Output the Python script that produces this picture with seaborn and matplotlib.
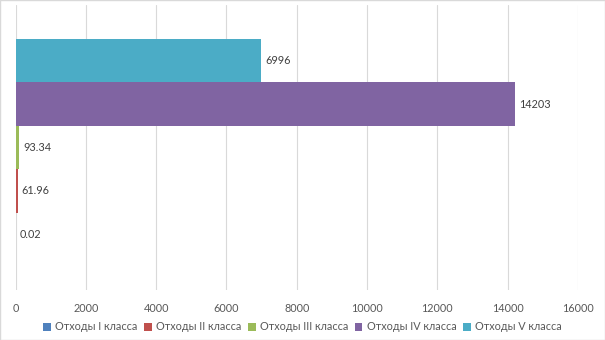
import matplotlib
matplotlib.use("Agg")
import matplotlib.pyplot as plt
from matplotlib.patches import Patch, Rectangle
import seaborn as sns
import pandas as pd

series = ["Отходы I класса", "Отходы II класса", "Отходы III класса",
          "Отходы IV класса", "Отходы V класса"]
values = [0.02, 61.96, 93.34, 14203, 6996]
labels = ["0.02", "61.96", "93.34", "14203", "6996"]
colors = ["#4F81BD", "#C0504D", "#9BBB59", "#8064A2", "#4BACC6"]
xticks = [0, 2000, 4000, 6000, 8000, 10000, 12000, 14000, 16000]

sns.set_theme(style="white")
plt.rcParams["font.family"] = ["Lato", "DejaVu Sans"]

df = pd.DataFrame({"group": ["all"] * len(series), "series": series, "value": values})
palette = dict(zip(series, colors))
hue_order = series[::-1]  # class V drawn on top

fig = plt.figure(figsize=(6.05, 3.4), dpi=100)
ax = fig.add_axes([15.5 / 605, 1 - 290 / 340, (578 - 15.5) / 605, 285 / 340])

sns.barplot(data=df, x="value", y="group", hue="series", hue_order=hue_order,
            palette=palette, orient="h", width=0.763, saturation=1,
            legend=False, ax=ax, linewidth=0)

ax.set_xlim(0, 16000)
ax.set_ylim(0.5, -0.5)
ax.set_xticks(xticks)
ax.set_xticklabels([str(t) for t in xticks], color="#595959", fontsize=7.8)
ax.tick_params(axis="x", length=0, pad=9)
ax.set_yticks([])
ax.set_xlabel("")
ax.set_ylabel("")
for s in ax.spines.values():
    s.set_visible(False)
ax.grid(axis="x", color="#D9D9D9", linewidth=0.8)
ax.set_axisbelow(True)

# value labels at the bar ends
lab = dict(zip(series, labels))
for cont, name in zip(ax.containers, hue_order):
    for bar in cont:
        y = bar.get_y() + bar.get_height() / 2
        ax.annotate(lab[name], (bar.get_width(), y), xytext=(3, 0),
                    textcoords="offset points", va="center", ha="left",
                    fontsize=7.8, color="#404040")

handles = [Patch(facecolor=c, edgecolor="none") for c in colors]
fig.legend(handles, series, loc="center", bbox_to_anchor=(0.5, 1 - 327 / 340),
           ncol=5, frameon=False, fontsize=7.8, labelcolor="#595959",
           handlelength=0.7, handleheight=0.7, handletextpad=0.4,
           columnspacing=0.6)

fig.patches.append(Rectangle((0, 0), 1, 1, transform=fig.transFigure,
                             fill=False, edgecolor="#D9D9D9", linewidth=1))

fig.savefig("out.png", dpi=100, facecolor="white")
